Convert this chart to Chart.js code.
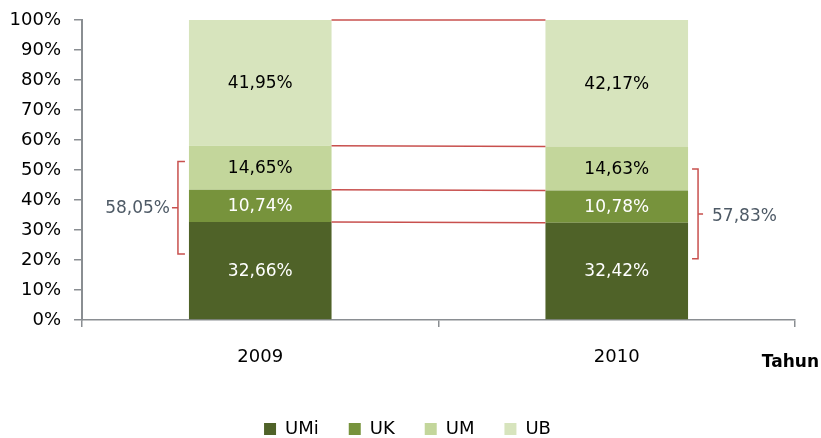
<!DOCTYPE html>
<html>
<head>
<meta charset="utf-8">
<script src="https://cdn.jsdelivr.net/npm/chart.js@4/dist/chart.umd.min.js"></script>
<style>
  html, body { margin: 0; padding: 0; background: #fff; }
</style>
</head>
<body>
<canvas id="chart" width="821" height="438"></canvas>
<script>
// Komposisi unit usaha per tahun (%)
const years = ['2009', '2010'];
const umi = [32.66, 32.42];
const uk = [10.74, 10.78];
const um = [14.65, 14.63];
const ub = [41.95, 42.17];

const axisColor = '#8A8E92';
const fontFamily = '"DejaVu Sans", sans-serif';

function fmt(v) {
    return v.toFixed(2).replace('.', ',') + '%';
}

// series lines, value labels, brackets and the "Tahun" caption
const annotations = {
    id: 'annotations',
    afterLayout: function (chart) {
        // legend sits a little right of the canvas centre
        chart.legend.left += 20;
    },
    afterDatasetsDraw: function (chart) {
        const ctx = chart.ctx;
        const y = chart.scales.y;
        const x = chart.scales.x;
        const sets = chart.data.datasets;
        const metas = sets.map(function (d, i) { return chart.getDatasetMeta(i); });

        ctx.save();

        // red connecting lines from bar to bar
        ctx.strokeStyle = '#C8504E';
        ctx.lineWidth = 1.5;
        metas.forEach(function (meta) {
            const a = meta.data[0], b = meta.data[1];
            ctx.beginPath();
            ctx.moveTo(a.x + a.width / 2, a.y);
            ctx.lineTo(b.x - b.width / 2, b.y);
            ctx.stroke();
        });

        // percentages inside the segments
        ctx.font = '17px ' + fontFamily;
        ctx.textAlign = 'center';
        ctx.textBaseline = 'middle';
        metas.forEach(function (meta, i) {
            ctx.fillStyle = sets[i].labelColor;
            meta.data.forEach(function (bar, j) {
                ctx.fillText(fmt(sets[i].data[j]), bar.x, (bar.y + bar.base) / 2 + 1);
            });
        });

        // brackets around UMi + UK + UM
        const totals = years.map(function (t, j) {
            return umi[j] + uk[j] + um[j];
        });
        ctx.strokeStyle = '#C8504E';
        ctx.lineWidth = 1.5;
        ctx.fillStyle = '#4E5A66';

        const b0 = metas[0].data[0];
        const lx = b0.x - b0.width / 2 - 11;
        const lt = y.getPixelForValue(52.8), lb = y.getPixelForValue(22);
        const lm = (lt + lb) / 2;
        ctx.beginPath();
        ctx.moveTo(lx + 7, lt); ctx.lineTo(lx, lt); ctx.lineTo(lx, lb); ctx.lineTo(lx + 7, lb);
        ctx.moveTo(lx, lm); ctx.lineTo(lx - 6, lm);
        ctx.stroke();
        ctx.textAlign = 'right';
        ctx.fillText(fmt(totals[0]), lx - 8, lm + 1);

        const b1 = metas[0].data[1];
        const rx = b1.x + b1.width / 2 + 10;
        const rt = y.getPixelForValue(50.3), rb = y.getPixelForValue(20.4);
        const rm = (rt + rb) / 2;
        ctx.beginPath();
        ctx.moveTo(rx - 6, rt); ctx.lineTo(rx, rt); ctx.lineTo(rx, rb); ctx.lineTo(rx - 6, rb);
        ctx.moveTo(rx, rm); ctx.lineTo(rx + 5, rm);
        ctx.stroke();
        ctx.textAlign = 'left';
        ctx.fillText(fmt(totals[1]), rx + 14, rm + 3);

        // axis caption
        ctx.fillStyle = '#000';
        ctx.font = 'bold 17px ' + fontFamily;
        ctx.textAlign = 'right';
        ctx.fillText('Tahun', chart.width - 2, x.bottom - 27);

        ctx.restore();
    }
};

const config = {
    type: 'bar',
    data: {
        labels: years,
        datasets: [
            { label: 'UMi', data: umi, backgroundColor: '#4F6228', labelColor: '#FFFFFF' },
            { label: 'UK', data: uk, backgroundColor: '#77933C', labelColor: '#FFFFFF' },
            { label: 'UM', data: um, backgroundColor: '#C3D69B', labelColor: '#000000' },
            { label: 'UB', data: ub, backgroundColor: '#D7E4BD', labelColor: '#000000' }
        ]
    },
    options: {
        responsive: false,
        animation: false,
        events: [],
        layout: { padding: { left: 0, right: 26, top: 20, bottom: -10 } },
        datasets: {
            bar: { barPercentage: 0.4, categoryPercentage: 1, borderWidth: 0 }
        },
        scales: {
            x: {
                stacked: true,
                grid: { display: true, drawOnChartArea: false, tickLength: 7, color: axisColor, lineWidth: 1.5 },
                border: { display: true, color: axisColor, width: 1.5 },
                ticks: { color: '#000', padding: 20, font: { family: fontFamily, size: 18 } },
                afterFit: function (scale) { scale.height = 70; }
            },
            y: {
                stacked: true,
                min: 0,
                max: 100,
                grid: { display: true, drawOnChartArea: false, tickLength: 8, color: axisColor, lineWidth: 1.5 },
                border: { display: true, color: axisColor, width: 2 },
                ticks: {
                    stepSize: 10,
                    color: '#000',
                    padding: 13,
                    font: { family: fontFamily, size: 18 },
                    callback: function (v) { return v + '%'; }
                },
                afterFit: function (scale) {
                    scale.width = 82;
                    // tick padding should not push the plot down
                    scale.paddingTop = 11;
                    scale.paddingBottom = 11;
                }
            }
        },
        plugins: {
            legend: {
                position: 'bottom',
                labels: {
                    boxWidth: 12,
                    boxHeight: 12,
                    padding: 30,
                    color: '#000',
                    font: { family: fontFamily, size: 18 }
                }
            },
            tooltip: { enabled: false }
        }
    },
    plugins: [annotations]
};

new Chart(document.getElementById('chart').getContext('2d'), config);
</script>
</body>
</html>
